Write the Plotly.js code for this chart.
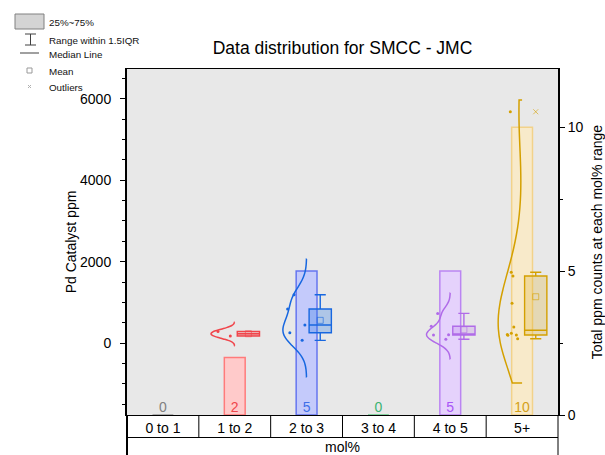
<!DOCTYPE html>
<html><head><meta charset="utf-8">
<script src="https://cdn.plot.ly/plotly-3.0.1.min.js"></script>
<style>html,body{margin:0;padding:0;background:#fff}</style>
</head><body><div id="chart" style="width:605px;height:455px"></div>
<script>
// ---- data ----
const categories = ['0 to 1', '1 to 2', '2 to 3', '3 to 4', '4 to 5', '5+'];
const counts = [0, 2, 5, 0, 5, 10];
const ppm_0to1 = [];
const ppm_1to2 = [172, 285];
const ppm_2to3 = [66, 253, 443, 836, 1188];
const ppm_3to4 = [];
const ppm_4to5 = [91, 197, 204, 411, 728];
const ppm_5plus = [106, 189, 197, 210, 238, 393, 976, 1647, 1738, 5686];
const seriesValues = [ppm_0to1, ppm_1to2, ppm_2to3, ppm_3to4, ppm_4to5, ppm_5plus];
const xAxisTitle = 'mol%';

// ---- styles ----
const FONT = 'Liberation Sans, Arial, sans-serif';
const lineColors = ['#808080', '#f0454b', '#1767e0', '#3cb371', '#b06be8', '#d4a000'];
const textColors = ['#808080', '#f0454b', '#3f6fe8', '#3cb371', '#a855f7', '#d4a017'];
const barFills  = ['#dddddd', '#ffcaca', '#c4cafb', '#cdeccd', '#e5d2fc', '#f8eaca'];
const barEdges  = ['#999999', '#ff7b7b', '#6576f0', '#66cc88', '#bb85f2', '#f2d28a'];
const boxFills  = ['#cccccc', 'rgba(240,69,75,0.35)', 'rgba(40,120,230,0.30)', '#cceecc', 'rgba(176,107,232,0.22)', 'rgba(212,160,0,0.22)'];
const kdeBandwidth = [0, 80, 300, 0, 170, 1000];
const kdeSpan = [null, [-66, 509], [-836, 2065], null, [-393, 1229], [-983, 5975]];
const BOX_OFFSET = 0.19, BOX_WIDTH = 0.31, BAR_WIDTH = 0.29, VIOLIN_WIDTH = 0.66;

// plot area in pixels (for paper conversion of the legend / table)
const L = 127, R = 558, T = 69, B = 415;
const px = x => (x - L) / (R - L);
const py = y => (B - y) / (B - T);

const idx = categories.map((c, i) => i);
const traces = [];

// count bars (base y axis, right side)
traces.push({
  type: 'bar', x: idx, y: counts, width: BAR_WIDTH, yaxis: 'y',
  marker: {color: barFills, line: {color: barEdges, width: 1.5}},
  hoverinfo: 'skip', showlegend: false
});
// count labels
traces.push({
  type: 'scatter', mode: 'text', x: idx, y: counts.map(() => 0), yaxis: 'y',
  text: counts.map(String), textposition: 'top center',
  textfont: {family: FONT, size: 14, color: textColors},
  hoverinfo: 'skip', showlegend: false
});

seriesValues.forEach((vals, i) => {
  if (!vals.length) return;
  const col = lineColors[i];
  traces.push({
    type: 'violin', x0: i, y: vals, yaxis: 'y2', orientation: 'v',
    side: 'negative', width: VIOLIN_WIDTH, scalemode: 'width',
    bandwidth: kdeBandwidth[i], spanmode: 'manual', span: kdeSpan[i],
    line: {color: col, width: 1.5}, fillcolor: 'rgba(0,0,0,0)',
    points: 'all', pointpos: -0.42, jitter: 0.45,
    marker: {color: col, size: 3},
    box: {visible: false}, meanline: {visible: false},
    hoverinfo: 'skip', showlegend: false
  });
  traces.push({
    type: 'box', x0: i + BOX_OFFSET, y: vals, yaxis: 'y2', width: BOX_WIDTH,
    quartilemethod: 'inclusive', boxpoints: 'outliers', pointpos: 0, jitter: 0,
    whiskerwidth: 0.5, fillcolor: boxFills[i],
    line: {color: col, width: 1.4},
    marker: {symbol: 'x-thin-open', size: 5, color: col, opacity: 0.6, line: {color: col, width: 1}},
    hoverinfo: 'skip', showlegend: false
  });
  const mean = vals.reduce((a, b) => a + b, 0) / vals.length;
  traces.push({
    type: 'scatter', mode: 'markers', x: [i + BOX_OFFSET], y: [mean], yaxis: 'y2',
    marker: {symbol: 'square-open', size: 6, color: col, opacity: 0.6, line: {width: 1}},
    hoverinfo: 'skip', showlegend: false
  });
});

// ---- table under the plot + legend graphics ----
const shapes = [];
const rowLine = py(437.5), bottomY = py(455);
shapes.push({type: 'line', xref: 'paper', yref: 'paper', x0: 0, x1: 1, y0: rowLine, y1: rowLine, line: {color: '#000', width: 1}});
for (let k = 1; k < categories.length; k++) {
  const xx = k / categories.length;
  shapes.push({type: 'line', xref: 'paper', yref: 'paper', x0: xx, x1: xx, y0: rowLine, y1: 0, line: {color: '#000', width: 1}});
}
shapes.push({type: 'line', xref: 'paper', yref: 'paper', x0: 0, x1: 0, y0: bottomY, y1: 0, line: {color: '#000', width: 2}});
shapes.push({type: 'line', xref: 'paper', yref: 'paper', x0: 1, x1: 1, y0: bottomY, y1: 0, line: {color: '#000', width: 1}});

const lg = (x0, y0, x1, y1, extra) => Object.assign({xref: 'paper', yref: 'paper', x0: px(x0), x1: px(x1), y0: py(y0), y1: py(y1)}, extra);
shapes.push(lg(15, 14, 44, 29, {type: 'rect', fillcolor: '#d4d4d4', line: {color: '#808080', width: 1}}));
shapes.push(lg(30.5, 34, 30.5, 45, {type: 'line', line: {color: '#404040', width: 1}}));
shapes.push(lg(25, 34, 36, 34, {type: 'line', line: {color: '#404040', width: 1}}));
shapes.push(lg(25, 45, 36, 45, {type: 'line', line: {color: '#404040', width: 1}}));
shapes.push(lg(20, 53, 39, 53, {type: 'line', line: {color: '#808080', width: 1.5}}));
shapes.push(lg(27, 68, 32, 73, {type: 'rect', line: {color: '#999999', width: 1}}));
shapes.push(lg(28, 85, 31, 88, {type: 'line', line: {color: '#b0b0b0', width: 1}}));
shapes.push(lg(28, 88, 31, 85, {type: 'line', line: {color: '#b0b0b0', width: 1}}));

const legendTexts = ['25%~75%', 'Range within 1.5IQR', 'Median Line', 'Mean', 'Outliers'];
const legendY = [23, 40, 54.5, 71, 87.5];
const annotations = legendTexts.map((t, k) => ({
  xref: 'paper', yref: 'paper', x: px(47), y: py(legendY[k]), xanchor: 'left', yanchor: 'middle',
  text: t, showarrow: false, font: {family: FONT, size: 9.8, color: '#111'}
}));
// x-axis title in the second row of the table
annotations.push({
  xref: 'paper', yref: 'paper', x: 0.5, y: py(446.5), xanchor: 'center', yanchor: 'middle',
  text: xAxisTitle, showarrow: false, font: {family: FONT, size: 14, color: '#000'}
});

const layout = {
  width: 605, height: 455,
  margin: {l: L, r: 605 - R, t: T, b: 455 - B, pad: 0},
  paper_bgcolor: '#ffffff', plot_bgcolor: '#e8e8e8',
  font: {family: FONT, size: 14, color: '#000'},
  title: {text: 'Data distribution for SMCC - JMC', font: {family: FONT, size: 17.5, color: '#000'},
          x: 0.5, xref: 'paper', xanchor: 'center', y: 1 - 48 / 455, yref: 'container', yanchor: 'middle'},
  showlegend: false,
  boxmode: 'overlay', violinmode: 'overlay', barmode: 'overlay',
  xaxis: {
    range: [-0.5, categories.length - 0.5], tickvals: idx, ticktext: categories,
    ticks: '', showline: true, linecolor: '#000', linewidth: 1.3, mirror: true,
    showgrid: false, zeroline: false, fixedrange: true,
    tickfont: {family: FONT, size: 14, color: '#000'}
  },
  yaxis: {
    side: 'right', range: [0, 12.02], tickvals: [0, 5, 10],
    ticks: 'outside', ticklen: 5, tickwidth: 1, tickcolor: '#000',
    minor: {tickvals: [2.5, 7.5], ticks: 'outside', ticklen: 3, tickcolor: '#000'},
    showline: true, linecolor: '#000', linewidth: 2, showgrid: false, zeroline: false,
    tickfont: {family: FONT, size: 14, color: '#000'},
    title: {text: 'Total ppm counts at each mol% range', font: {family: FONT, size: 14, color: '#000'}}
  },
  yaxis2: {
    overlaying: 'y', side: 'left', range: [-1770, 6737],
    tickvals: [0, 2000, 4000, 6000], ticklabelstandoff: 6,
    ticks: 'outside', ticklen: 5, tickwidth: 1, tickcolor: '#000',
    minor: {dtick: 500, tick0: 0, ticks: 'outside', ticklen: 3, tickcolor: '#000'},
    showline: true, linecolor: '#000', linewidth: 2, showgrid: false, zeroline: false,
    tickfont: {family: FONT, size: 14, color: '#000'},
    title: {text: 'Pd Catalyst ppm', font: {family: FONT, size: 14, color: '#000'}, standoff: 0}
  },
  shapes: shapes,
  annotations: annotations
};

Plotly.newPlot('chart', traces, layout, {staticPlot: true, displayModeBar: false});
</script>
</body></html>
